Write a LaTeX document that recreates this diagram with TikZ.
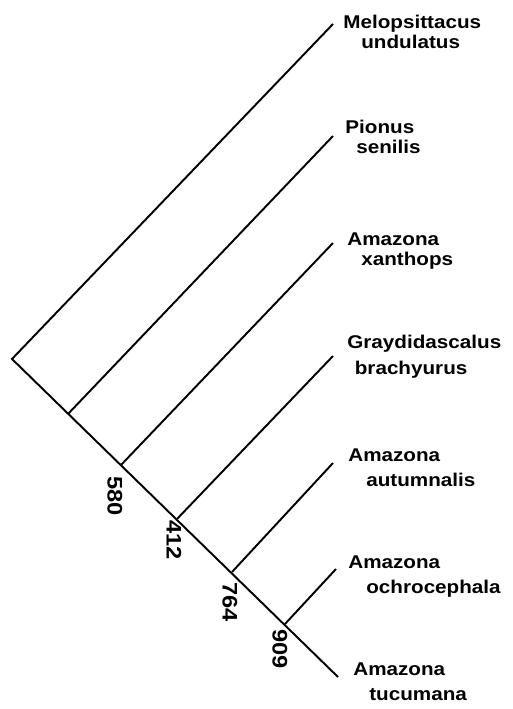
\documentclass[tikz,border=0pt]{standalone}
\usepackage{fontspec}
\setmainfont{Liberation Sans}[FakeStretch=1.12]
\usepackage{tikz}
\usetikzlibrary{calc, positioning}

\begin{document}
\begin{tikzpicture}[x=0.02cm, y=-0.02cm]
        \tikzstyle{branch} = [draw, line width=1.1pt, line join=miter]
        \tikzstyle{taxon} = [anchor=north west, inner sep=0pt, align=left, font=\fontsize{10.5}{11.5}\selectfont\bfseries]
        \tikzstyle{support} = [inner sep=0pt, rotate=-90, font=\fontsize{12}{12}\selectfont\bfseries]

        \useasboundingbox (0,0) rectangle (512,709);

        % junctions on the spine
        \coordinate (root) at (12,359);
        \coordinate (n1) at (68,414);
        \coordinate (n2) at (121,465);
        \coordinate (n3) at (177,519);
        \coordinate (n4) at (232,572);
        \coordinate (n5) at (285,624);

        % leaf tips
        \coordinate (t1) at (333,24);
        \coordinate (t2) at (333,136);
        \coordinate (t3) at (333,243);
        \coordinate (t4) at (333,356);
        \coordinate (t5) at (333,463);
        \coordinate (t6) at (336,569);
        \coordinate (t7) at (338,677);

        \path [branch] (t1) -- (root) -- (t7);
        \path [branch] (n1) -- (t2);
        \path [branch] (n2) -- (t3);
        \path [branch] (n3) -- (t4);
        \path [branch] (n4) -- (t5);
        \path [branch] (n5) -- (t6);

        \node [taxon] (melo) at (343,15) {Melopsittacus\\\hspace*{0.36cm}undulatus};
        \node [taxon] (pion) at (345,120) {Pionus\\\hspace*{0.22cm}senilis};
        \node [taxon] (xant) at (347,232) {Amazona\\\hspace*{0.28cm}xanthops};
        \node [taxon] (gray) at (347,335) {Graydidascalus\\[3pt]\hspace*{0.15cm}brachyurus};
        \node [taxon] (autu) at (348,448) {Amazona\\[3pt]\hspace*{0.36cm}autumnalis};
        \node [taxon] (ochr) at (348,555) {Amazona\\[3pt]\hspace*{0.36cm}ochrocephala};
        \node [taxon] (tucu) at (353,662) {Amazona\\[3pt]\hspace*{0.32cm}tucumana};

        \node [support] (s580) at ($(n2)+(-6,31)$) {580};
        \node [support] (s412) at ($(n3)+(-3,21)$) {412};
        \node [support] (s764) at ($(n4)+(-2,30)$) {764};
        \node [support] (s909) at ($(n5)+(-5,25)$) {909};
    \end{tikzpicture}
\end{document}
